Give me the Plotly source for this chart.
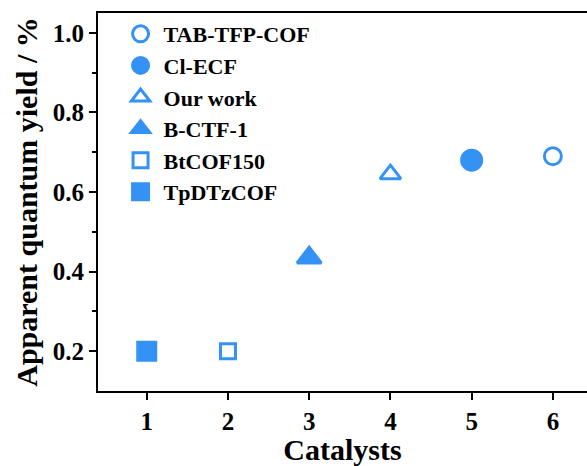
import plotly.graph_objects as go

names = ["TAB-TFP-COF", "Cl-ECF", "Our work", "B-CTF-1", "BtCOF150", "TpDTzCOF"]
catalyst = [6, 5, 4, 3, 2, 1]
yield_pct = [0.69, 0.68, 0.645, 0.435, 0.20, 0.20]
symbols = ["circle-open", "circle", "triangle-up-open", "triangle-up", "square-open", "square"]
sizes = [17, 20, 18, 21, 15, 18]

BLUE = "#3492F5"
FONT = "Liberation Serif"

fig = go.Figure()
for n, x, y, s, sz in zip(names, catalyst, yield_pct, symbols, sizes):
    fig.add_trace(go.Scatter(
        x=[x], y=[y], mode="markers", name=n, legendgroup=n,
        marker=dict(symbol=s, size=sz, color=BLUE, line=dict(color=BLUE, width=3)),
    ))

fig.update_layout(
    width=587, height=466,
    margin=dict(l=98, r=0, t=13, b=75),
    paper_bgcolor="white", plot_bgcolor="white",
    font=dict(family=FONT, color="black"),
    showlegend=True,
    legend=dict(x=0.04, y=1.0, xanchor="left", yanchor="top",
                font=dict(family=FONT, size=22, color="black", weight="bold"),
                bgcolor="rgba(0,0,0,0)", tracegroupgap=0, itemwidth=36),
    xaxis=dict(range=[0.4, 6.42], tickvals=[1, 2, 3, 4, 5, 6],
               showline=True, linecolor="black", linewidth=2, mirror=True,
               ticks="outside", ticklen=7, tickwidth=2, tickcolor="black",
               showgrid=False, zeroline=False, automargin=False,
               tickfont=dict(family=FONT, size=25, weight="bold"),
               title=dict(text="Catalysts", font=dict(family=FONT, size=30, weight="bold"), standoff=6)),
    yaxis=dict(range=[0.1, 1.05], tickvals=[0.2, 0.4, 0.6, 0.8, 1.0], ticktext=["0.2", "0.4", "0.6", "0.8", "1.0"],
               showline=True, linecolor="black", linewidth=2,
               ticks="outside", ticklen=7, tickwidth=2, tickcolor="black",
               minor=dict(tickvals=[0.3, 0.5, 0.7, 0.9], ticks="outside", ticklen=4, tickwidth=2, tickcolor="black"),
               showgrid=False, zeroline=False, automargin=False,
               tickfont=dict(family=FONT, size=25, weight="bold"),
               title=dict(text="Apparent quantum yield / %", font=dict(family=FONT, size=30, weight="bold"), standoff=6)),
)

fig.write_html("out.html", config={"displayModeBar": False},
               post_script="document.body.style.margin='0';")
